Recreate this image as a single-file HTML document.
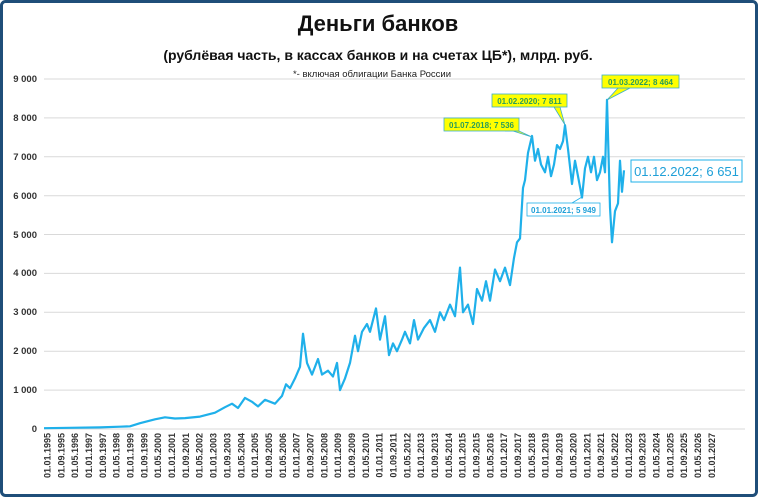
<!DOCTYPE html>
<html><head><meta charset="utf-8"><style>
html,body{margin:0;padding:0;background:#fff}
svg{display:block}
text{font-family:"Liberation Sans",sans-serif}
</style></head><body>
<svg width="758" height="497" viewBox="0 0 758 497" xmlns="http://www.w3.org/2000/svg">
<rect x="1.5" y="1.5" width="755" height="494" rx="4" fill="#fff" stroke="#1f4e79" stroke-width="3"/>
<text x="378" y="31" text-anchor="middle" font-size="22" font-weight="bold" fill="#111">Деньги банков</text>
<text x="378" y="60" text-anchor="middle" font-size="14" font-weight="bold" fill="#111">(рублёвая часть, в кассах банков и на счетах ЦБ*), млрд. руб.</text>
<text x="372" y="77" text-anchor="middle" font-size="9.5" fill="#222">*- включая облигации Банка России</text>
<g stroke="#d9d9d9" stroke-width="1">
<line x1="44" x2="745" y1="429" y2="429"/><line x1="44" x2="745" y1="390.1" y2="390.1"/><line x1="44" x2="745" y1="351.2" y2="351.2"/><line x1="44" x2="745" y1="312.3" y2="312.3"/><line x1="44" x2="745" y1="273.4" y2="273.4"/><line x1="44" x2="745" y1="234.5" y2="234.5"/><line x1="44" x2="745" y1="195.7" y2="195.7"/><line x1="44" x2="745" y1="156.8" y2="156.8"/><line x1="44" x2="745" y1="117.9" y2="117.9"/><line x1="44" x2="745" y1="79" y2="79"/>
</g>
<g font-size="9.5" font-weight="bold" fill="#333" text-anchor="end">
<text x="37" y="432">0</text><text x="37" y="393">1 000</text><text x="37" y="354">2 000</text><text x="37" y="315">3 000</text><text x="37" y="276">4 000</text><text x="37" y="238">5 000</text><text x="37" y="199">6 000</text><text x="37" y="160">7 000</text><text x="37" y="121">8 000</text><text x="37" y="82">9 000</text>
</g>
<g font-size="9" font-weight="bold" fill="#333" text-anchor="end">
<text transform="translate(50.5,433) rotate(-90)">01.01.1995</text>
<text transform="translate(64.3,433) rotate(-90)">01.09.1995</text>
<text transform="translate(78.2,433) rotate(-90)">01.05.1996</text>
<text transform="translate(92,433) rotate(-90)">01.01.1997</text>
<text transform="translate(105.9,433) rotate(-90)">01.09.1997</text>
<text transform="translate(119.7,433) rotate(-90)">01.05.1998</text>
<text transform="translate(133.5,433) rotate(-90)">01.01.1999</text>
<text transform="translate(147.4,433) rotate(-90)">01.09.1999</text>
<text transform="translate(161.2,433) rotate(-90)">01.05.2000</text>
<text transform="translate(175.1,433) rotate(-90)">01.01.2001</text>
<text transform="translate(188.9,433) rotate(-90)">01.09.2001</text>
<text transform="translate(202.7,433) rotate(-90)">01.05.2002</text>
<text transform="translate(216.6,433) rotate(-90)">01.01.2003</text>
<text transform="translate(230.4,433) rotate(-90)">01.09.2003</text>
<text transform="translate(244.3,433) rotate(-90)">01.05.2004</text>
<text transform="translate(258.1,433) rotate(-90)">01.01.2005</text>
<text transform="translate(271.9,433) rotate(-90)">01.09.2005</text>
<text transform="translate(285.8,433) rotate(-90)">01.05.2006</text>
<text transform="translate(299.6,433) rotate(-90)">01.01.2007</text>
<text transform="translate(313.5,433) rotate(-90)">01.09.2007</text>
<text transform="translate(327.3,433) rotate(-90)">01.05.2008</text>
<text transform="translate(341.1,433) rotate(-90)">01.01.2009</text>
<text transform="translate(355,433) rotate(-90)">01.09.2009</text>
<text transform="translate(368.8,433) rotate(-90)">01.05.2010</text>
<text transform="translate(382.7,433) rotate(-90)">01.01.2011</text>
<text transform="translate(396.5,433) rotate(-90)">01.09.2011</text>
<text transform="translate(410.3,433) rotate(-90)">01.05.2012</text>
<text transform="translate(424.2,433) rotate(-90)">01.01.2013</text>
<text transform="translate(438,433) rotate(-90)">01.09.2013</text>
<text transform="translate(451.9,433) rotate(-90)">01.05.2014</text>
<text transform="translate(465.7,433) rotate(-90)">01.01.2015</text>
<text transform="translate(479.5,433) rotate(-90)">01.09.2015</text>
<text transform="translate(493.4,433) rotate(-90)">01.05.2016</text>
<text transform="translate(507.2,433) rotate(-90)">01.01.2017</text>
<text transform="translate(521.1,433) rotate(-90)">01.09.2017</text>
<text transform="translate(534.9,433) rotate(-90)">01.05.2018</text>
<text transform="translate(548.7,433) rotate(-90)">01.01.2019</text>
<text transform="translate(562.6,433) rotate(-90)">01.09.2019</text>
<text transform="translate(576.4,433) rotate(-90)">01.05.2020</text>
<text transform="translate(590.3,433) rotate(-90)">01.01.2021</text>
<text transform="translate(604.1,433) rotate(-90)">01.09.2021</text>
<text transform="translate(617.9,433) rotate(-90)">01.05.2022</text>
<text transform="translate(631.8,433) rotate(-90)">01.01.2023</text>
<text transform="translate(645.6,433) rotate(-90)">01.09.2023</text>
<text transform="translate(659.5,433) rotate(-90)">01.05.2024</text>
<text transform="translate(673.3,433) rotate(-90)">01.01.2025</text>
<text transform="translate(687.1,433) rotate(-90)">01.09.2025</text>
<text transform="translate(701,433) rotate(-90)">01.05.2026</text>
<text transform="translate(714.8,433) rotate(-90)">01.01.2027</text>
</g>
<polyline fill="none" stroke="#1fb0ea" stroke-width="2.2" stroke-linejoin="round" points="44,428.2 70,427.8 100,427.4 120,426.7 130,426.3 140,423.2 155,419.3 165,417.3 175,418.5 185,418.1 200,416.6 215,412.7 225,407.2 232,403.7 238,408 245,397.9 252,401.8 258,406.4 265,399.8 275,403.7 282,395.9 286,384.3 290,388.2 295,378.4 300,366.8 303,333.7 307,362.9 312,374.6 318,359 322,374.6 328,370.7 333,376.5 337,362.9 340,390.1 345,378.4 350,362.9 355,335.7 358,351.2 362,331.8 367,324 370,331.8 376,308.4 380,339.6 385,316.2 389,355.1 393,343.4 397,351.2 402,339.6 405,331.8 410,343.4 414,320.1 418,339.6 424,327.9 430,320.1 435,331.8 440,312.3 444,320.1 450,304.6 455,316.2 460,267.6 463,312.3 468,304.6 473,324 477,289 482,300.7 486,281.2 490,300.7 495,269.5 500,281.2 505,267.6 510,285.1 514,257.9 517,242.3 520,238.4 523,187.9 525,180.1 528,152.9 532,135.9 535,160.7 538,149 541,164.5 545,172.3 548,156.8 551,176.2 554,164.5 557,145.1 560,149 563,141.2 565,125.2 568,149 572,184 575,160.7 578,176.2 582,197.6 585,168.4 588,156.8 591,172.3 594,156.8 597,180.1 600,172.3 603,156.8 605,172.3 607,99.8 610,207.3 612,242.3 615,211.2 618,203.4 620,160.7 622,191.8 624,170.3"/>
<g font-size="8" font-weight="bold">
<polygon points="505,131 519,131 532,137 513,131" fill="#ffff00" stroke="#3cb0c8" stroke-width="0.8"/>
<rect x="444" y="118" width="75" height="13" fill="#ffff00" stroke="#3cb0c8" stroke-width="0.8"/>
<text x="481.5" y="128" text-anchor="middle" fill="#2a9d5a">01.07.2018;  7 536</text>
<polygon points="548,107 560,107 565,125 554,107" fill="#ffff00" stroke="#3cb0c8" stroke-width="0.8"/>
<rect x="492" y="94" width="75" height="13" fill="#ffff00" stroke="#3cb0c8" stroke-width="0.8"/>
<text x="529.5" y="104" text-anchor="middle" fill="#2a9d5a">01.02.2020;  7 811</text>
<polygon points="610,88 630,88 607,100 618,88" fill="#ffff00" stroke="#3cb0c8" stroke-width="0.8"/>
<rect x="602" y="75" width="77" height="13" fill="#ffff00" stroke="#3cb0c8" stroke-width="0.8"/>
<text x="640.5" y="85" text-anchor="middle" fill="#2a9d5a">01.03.2022;  8 464</text>
<line x1="582" y1="197" x2="572" y2="203" stroke="#1fb0ea" stroke-width="0.8"/>
<rect x="527" y="203" width="73" height="13" fill="#fff" stroke="#1fb0ea" stroke-width="0.8"/>
<text x="563.5" y="213" text-anchor="middle" fill="#1fa0d8">01.01.2021;  5 949</text>
<rect x="631" y="160" width="111" height="22" fill="#fff" stroke="#1fb0ea" stroke-width="1"/>
<text x="686.5" y="176" text-anchor="middle" font-size="13" font-weight="normal" fill="#1fa0d8">01.12.2022;  6 651</text>
</g>
</svg>
</body></html>
